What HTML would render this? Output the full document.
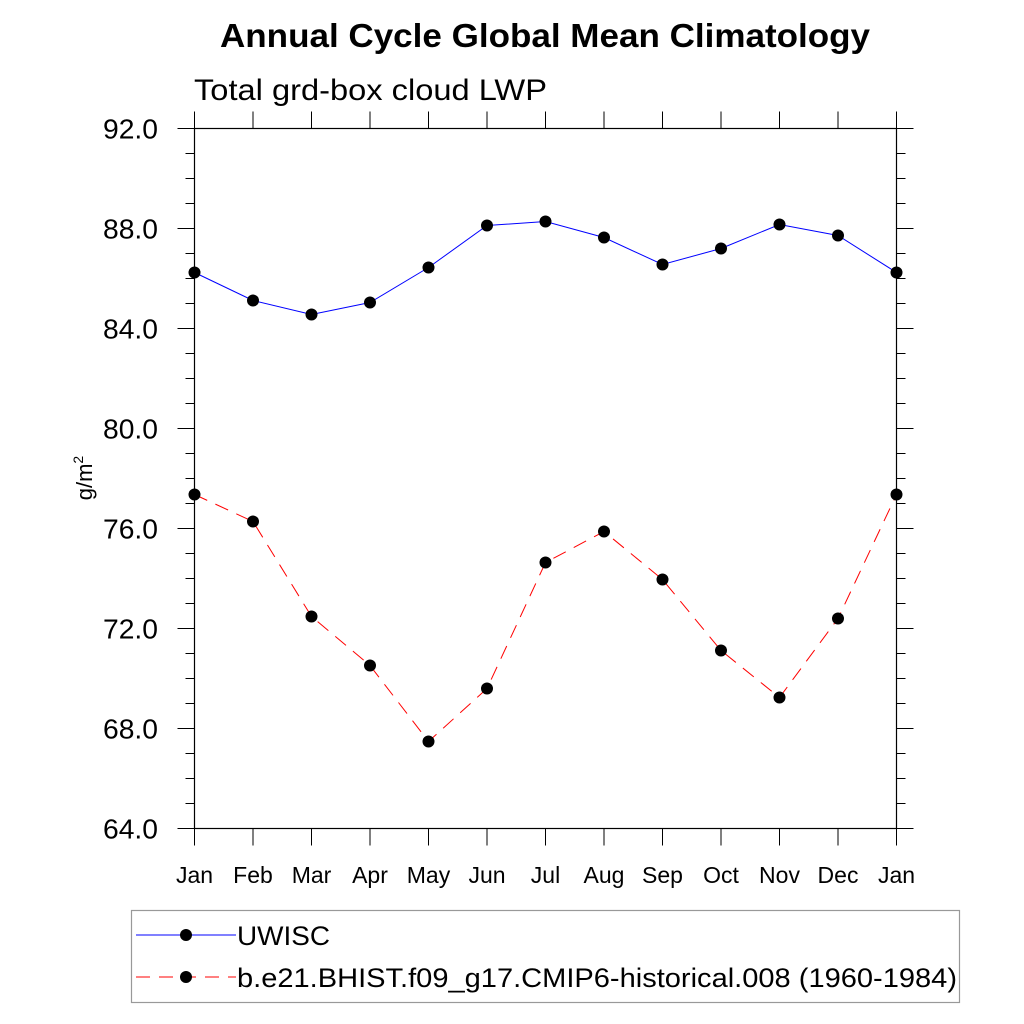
<!DOCTYPE html>
<html><head><meta charset="utf-8"><style>
body{margin:0;background:#fff;}
svg{display:block;font-family:"Liberation Sans",sans-serif;}
</style></head><body>
<svg id="chart" width="1024" height="1024" viewBox="0 0 1024 1024">
<text x="220" y="47" font-size="33" font-weight="bold" textLength="650" lengthAdjust="spacingAndGlyphs">Annual Cycle Global Mean Climatology</text>
<text x="194" y="100" font-size="30" textLength="353" lengthAdjust="spacingAndGlyphs">Total grd-box cloud LWP</text>
<text transform="translate(92,478) rotate(-90)" text-anchor="middle" font-size="22">g/m<tspan dy="-9" font-size="14">2</tspan></text>
<g id="axes"></g>
<g id="series"></g>
<g>
<rect x="131.5" y="910.5" width="828" height="92" fill="none" stroke="#999" stroke-width="1.2"/>
<g>
<line x1="136" y1="935" x2="236" y2="935" stroke="#0000ff" stroke-width="1"/>
<circle cx="186" cy="935" r="6" fill="#000"/>
<text x="237" y="945" font-size="27" textLength="93" lengthAdjust="spacingAndGlyphs">UWISC</text></g>
<g>
<line x1="136" y1="977" x2="236" y2="977" stroke="#ff0000" stroke-width="1" stroke-dasharray="14,9"/>
<circle cx="186" cy="977" r="6" fill="#000"/>
<text x="237" y="987" font-size="27" textLength="720" lengthAdjust="spacingAndGlyphs">b.e21.BHIST.f09_g17.CMIP6-historical.008 (1960-1984)</text></g>
</g>
</svg>
<script>
const months=["Jan","Feb","Mar","Apr","May","Jun","Jul","Aug","Sep","Oct","Nov","Dec","Jan"];
const uwisc=[86.24,85.12,84.56,85.04,86.44,88.12,88.28,87.64,86.56,87.2,88.16,87.72,86.24];
const model=[77.36,76.28,72.48,70.52,67.48,69.6,74.64,75.88,73.96,71.12,69.24,72.4,77.36];
const yTicks=[64,68,72,76,80,84,88,92];
const NS="http://www.w3.org/2000/svg";
const L=194.5,R=896.5,T=128.5,B=828.5,X0=194.5,X1=896.5;
const xs=i=>X0+(X1-X0)*i/(months.length-1);
const ys=v=>B-(v-64)/(92-64)*(B-T);
function mk(tag,a,p){const e=document.createElementNS(NS,tag);for(const k in a)e.setAttribute(k,a[k]);p.appendChild(e);return e;}
const ax=document.getElementById('axes');
const fr=mk('rect',{x:L,y:T,width:R-L,height:B-T,fill:'none',stroke:'#000','stroke-width':1.2},ax);


for(let v=64;v<=92;v++){const y=ys(v);const maj=v%4===0;const len=maj?17:9;
mk('line',{x1:L-len,y1:y,x2:L,y2:y,stroke:'#000','stroke-width':1},ax);
mk('line',{x1:R,y1:y,x2:R+len,y2:y,stroke:'#000','stroke-width':1},ax);}
yTicks.forEach(v=>{const t=mk('text',{x:158,y:ys(v)+10,'text-anchor':'end','font-size':28,textLength:55,lengthAdjust:'spacingAndGlyphs'},ax);t.textContent=v.toFixed(1);

});
months.forEach((m,i)=>{const x=xs(i);
mk('line',{x1:x,y1:B,x2:x,y2:B+17,stroke:'#000','stroke-width':1},ax);
mk('line',{x1:x,y1:T-17,x2:x,y2:T,stroke:'#000','stroke-width':1},ax);
const t=mk('text',{x:x,y:883,'text-anchor':'middle','font-size':23},ax);t.textContent=m;

});
const sg=document.getElementById('series');
function draw(vals,color,dash,name){const g=mk('g',{},sg);


const pts=vals.map((v,i)=>xs(i)+','+ys(v)).join(' ');
const a={points:pts,fill:'none',stroke:color,'stroke-width':1};if(dash)a['stroke-dasharray']=dash;mk('polyline',a,g);
vals.forEach((v,i)=>{const c=mk('circle',{cx:xs(i),cy:ys(v),r:6,fill:'#000'},g);

});}
draw(uwisc,'#0000ff',null,'series-uwisc');
draw(model,'#ff0000','14,9','series-model');
</script>
</body></html>
